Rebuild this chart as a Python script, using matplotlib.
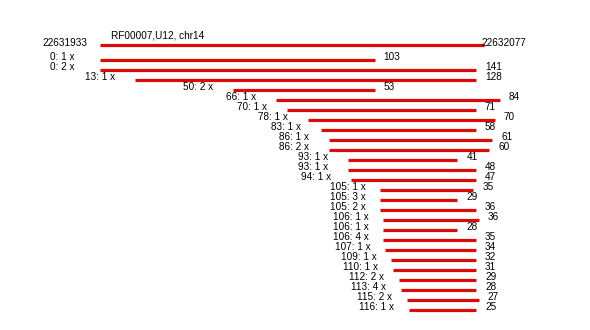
import matplotlib
matplotlib.use("Agg")
import matplotlib.pyplot as plt

# reference locus
title = "RF00007,U12, chr14"
ref_start = 22631933
ref_end = 22632077

# reads: offset from ref_start, copy count, length
starts = [0, 0, 13, 50, 66, 70, 78, 83, 86, 86, 93, 93, 94,
          105, 105, 105, 106, 106, 106, 107, 109, 110, 112, 113, 115, 116]
counts = [1, 2, 1, 2, 1, 1, 1, 1, 1, 2, 1, 1, 1,
          1, 3, 2, 1, 1, 4, 1, 1, 1, 2, 4, 2, 1]
lengths = [103, 141, 128, 53, 84, 71, 70, 58, 61, 60, 41, 48, 47,
           35, 29, 36, 36, 28, 35, 34, 32, 31, 29, 28, 27, 25]

plt.rcParams['font.family'] = ['Liberation Sans', 'DejaVu Sans']

fig = plt.figure(figsize=(5.9, 3.3), dpi=100)
ax = fig.add_axes([0, 0, 1, 1])
ax.axis('off')

# 1 base = 8/3 px, 1 row = 10 px
px = 3 / 8.0
ax.set_xlim(-100 * px, 490 * px)
ax.set_ylim(27, -6)

red = '#dd0a0a'
lw = 2.3
fs = 7.2

ref_len = ref_end - ref_start
ax.plot([0, ref_len], [-1.5, -1.5], color=red, lw=lw, solid_capstyle='butt')
ax.text(-58 * px, -1.7, str(ref_start), fontsize=fs, ha='left', va='center')
ax.text(ref_len - 3 * px, -1.7, str(ref_end), fontsize=fs, ha='left', va='center')
ax.text(11 * px, -2.5, title, fontsize=fs, ha='left', va='center')

for i, (s, c, l) in enumerate(zip(starts, counts, lengths)):
    ax.plot([s, s + l], [i, i], color=red, lw=lw, solid_capstyle='butt')
    ax.text(s - 50 * px, i - 0.3, f"{s}: {c} x", fontsize=fs,
            ha='left', va='center')
    ax.text(s + l + 9 * px, i - 0.25, str(l), fontsize=fs,
            ha='left', va='center')

fig.savefig("out.png", dpi=100)
